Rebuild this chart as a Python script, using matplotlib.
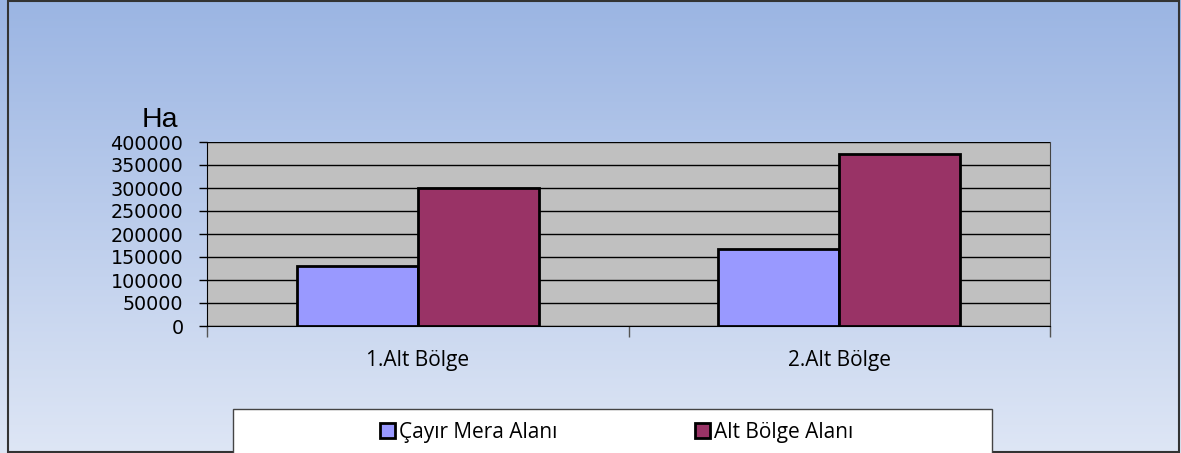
import numpy as np
import matplotlib.pyplot as plt
from matplotlib.patches import Rectangle

categories = ['1.Alt Bölge', '2.Alt Bölge']
series_names = ['Çayır Mera Alanı', 'Alt Bölge Alanı']
cayir_mera = [130000, 167000]
alt_bolge = [301000, 374000]
yticks = [0, 50000, 100000, 150000, 200000, 250000, 300000, 350000, 400000]

colors = ['#9999FF', '#993366']

fig = plt.figure(figsize=(11.81, 4.53), dpi=100)

# gradient background
bg = fig.add_axes([0, 0, 1, 1], zorder=-10)
grad = np.linspace(0, 1, 256).reshape(-1, 1)
top = np.array([155, 181, 227]) / 255
bot = np.array([222, 230, 245]) / 255
img = top + (bot - top) * grad[..., None]
bg.imshow(img, aspect='auto', extent=[0, 1, 0, 1], origin='upper')
bg.set_xlim(0, 1)
bg.set_ylim(0, 1)
bg.axis('off')
bg.add_patch(Rectangle((8 / 1181, 0.002), 1171 / 1181, 0.996, fill=False,
                       edgecolor='#333333', lw=1.5, transform=bg.transAxes))

ax = fig.add_axes([207 / 1181, 127 / 453, 843 / 1181, 184 / 453])
ax.set_facecolor('#C0C0C0')
x = np.arange(len(categories))
w = 0.287
ax.bar(x - w / 2, cayir_mera, w, color=colors[0], edgecolor='black', lw=2,
       label=series_names[0], zorder=3)
ax.bar(x + w / 2, alt_bolge, w, color=colors[1], edgecolor='black', lw=2,
       label=series_names[1], zorder=3)

ax.set_xlim(-0.5, 1.5)
ax.set_ylim(0, 400000)
ax.set_yticks(yticks)
ax.set_yticklabels([str(v) for v in yticks], fontsize=13.8, family='DejaVu Sans')
ax.yaxis.grid(True, color='black', lw=1)
ax.set_axisbelow(True)
ax.tick_params(axis='y', length=6, width=1, pad=11)

ax.set_xticks(x)
ax.set_xticklabels(categories, fontsize=15, family='Open Sans')
ax.set_xticks([-0.5, 0.5, 1.5], minor=True)
ax.tick_params(axis='x', which='major', length=0, pad=17)
ax.tick_params(axis='x', which='minor', length=8, color='#555555', width=1)

ax.spines['top'].set_visible(False)
ax.spines['right'].set_color('#444444')
ax.spines['left'].set_color('black')
ax.spines['bottom'].set_color('black')

fig.text(142 / 1181, 1 - 120 / 453, 'Ha', fontsize=20.5, family='Liberation Sans',
         va='center', ha='left')

# legend box
fig.patches.append(Rectangle((233 / 1181, -0.01), 759 / 1181, 0.01 + 44 / 453,
                             facecolor='white', edgecolor='#444444', lw=1,
                             transform=fig.transFigure, zorder=1))
fig.legend(loc='center', bbox_to_anchor=(617 / 1181, 0.046), ncol=2, frameon=False,
           prop={'family': 'Open Sans', 'size': 15}, handlelength=0.72,
           handleheight=0.72, handletextpad=0.2, columnspacing=6.6)

plt.savefig('out.png', dpi=100)
